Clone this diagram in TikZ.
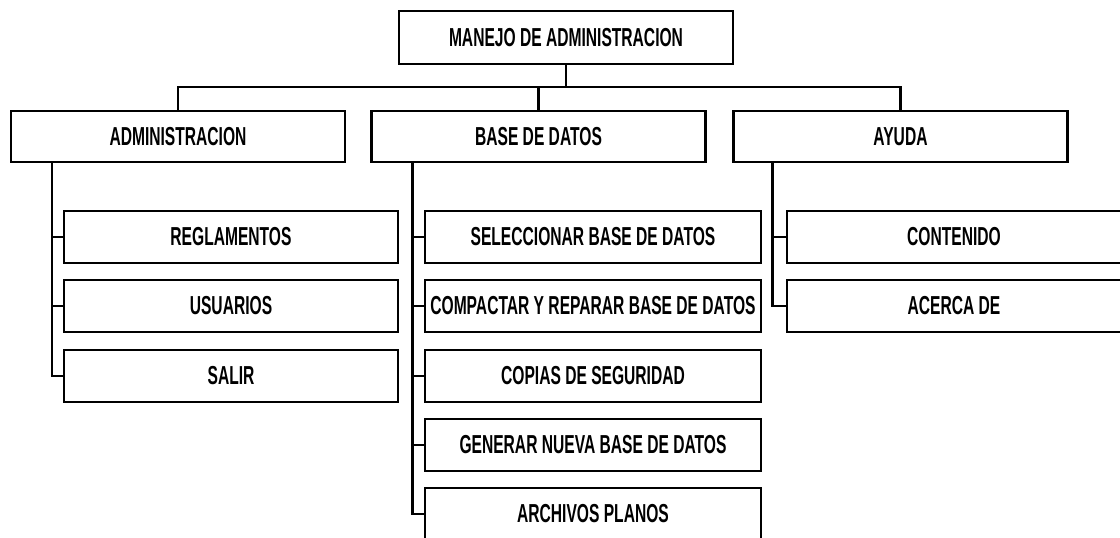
\documentclass[tikz,border=0pt]{standalone}
\usepackage{fontspec}
\setmainfont{Liberation Sans}[FakeStretch=0.60]
\begin{document}
\begin{tikzpicture}[x=1pt,y=-1pt,
  box/.style={draw,line width=2.3pt,rectangle,inner sep=0pt,minimum height=52pt,
    font=\fontsize{26}{28}\selectfont\bfseries},
  wA/.style={minimum width=334pt},
  wB/.style={minimum width=336pt},
  conn/.style={line width=2.3pt}]
\useasboundingbox (0,0) rectangle (1120,538);
% level 0 and 1
\node[box,wA,minimum height=53pt] (top) at (566,37.5) {MANEJO DE ADMINISTRACION};
\node[box,wA,minimum height=51pt] (adm) at (178,136.5) {ADMINISTRACION};
\node[box,wA,minimum height=51pt] (bd) at (538.5,136.5) {BASE DE DATOS};
\node[box,wA,minimum height=51pt] (ay) at (900.5,136.5) {AYUDA};
% admin children
\node[box,wA] (reg) at (231,237) {REGLAMENTOS};
\node[box,wA] (usu) at (231,306) {USUARIOS};
\node[box,wA] (sal) at (231,376) {SALIR};
% base de datos children
\node[box,wB] (sel) at (593,237) {SELECCIONAR BASE DE DATOS};
\node[box,wB] (com) at (593,306) {COMPACTAR Y REPARAR BASE DE DATOS};
\node[box,wB] (cop) at (593,376) {COPIAS DE SEGURIDAD};
\node[box,wB] (gen) at (593,445) {GENERAR NUEVA BASE DE DATOS};
\node[box,wB] (arc) at (593,514) {ARCHIVOS PLANOS};
% ayuda children
\node[box,wA] (con) at (954,237) {CONTENIDO};
\node[box,wA] (ace) at (954,306) {ACERCA DE};
% top connectors
\coordinate (bus) at (0,87);
\draw[conn] (top.south) -- (top.south |- bus);
\draw[conn] (adm.north) -- (adm.north |- bus) -| (ay.north);
\draw[conn] (bd.north) -- (bd.north |- bus);
% child connectors
\foreach \c in {reg,usu,sal}
  \draw[conn] ([xshift=42pt]adm.south west) |- (\c.west);
\foreach \c in {sel,com,cop,gen,arc}
  \draw[conn] ([xshift=42pt]bd.south west) |- (\c.west);
\foreach \c in {con,ace}
  \draw[conn] ([xshift=40pt]ay.south west) |- (\c.west);
\end{tikzpicture}
\end{document}
